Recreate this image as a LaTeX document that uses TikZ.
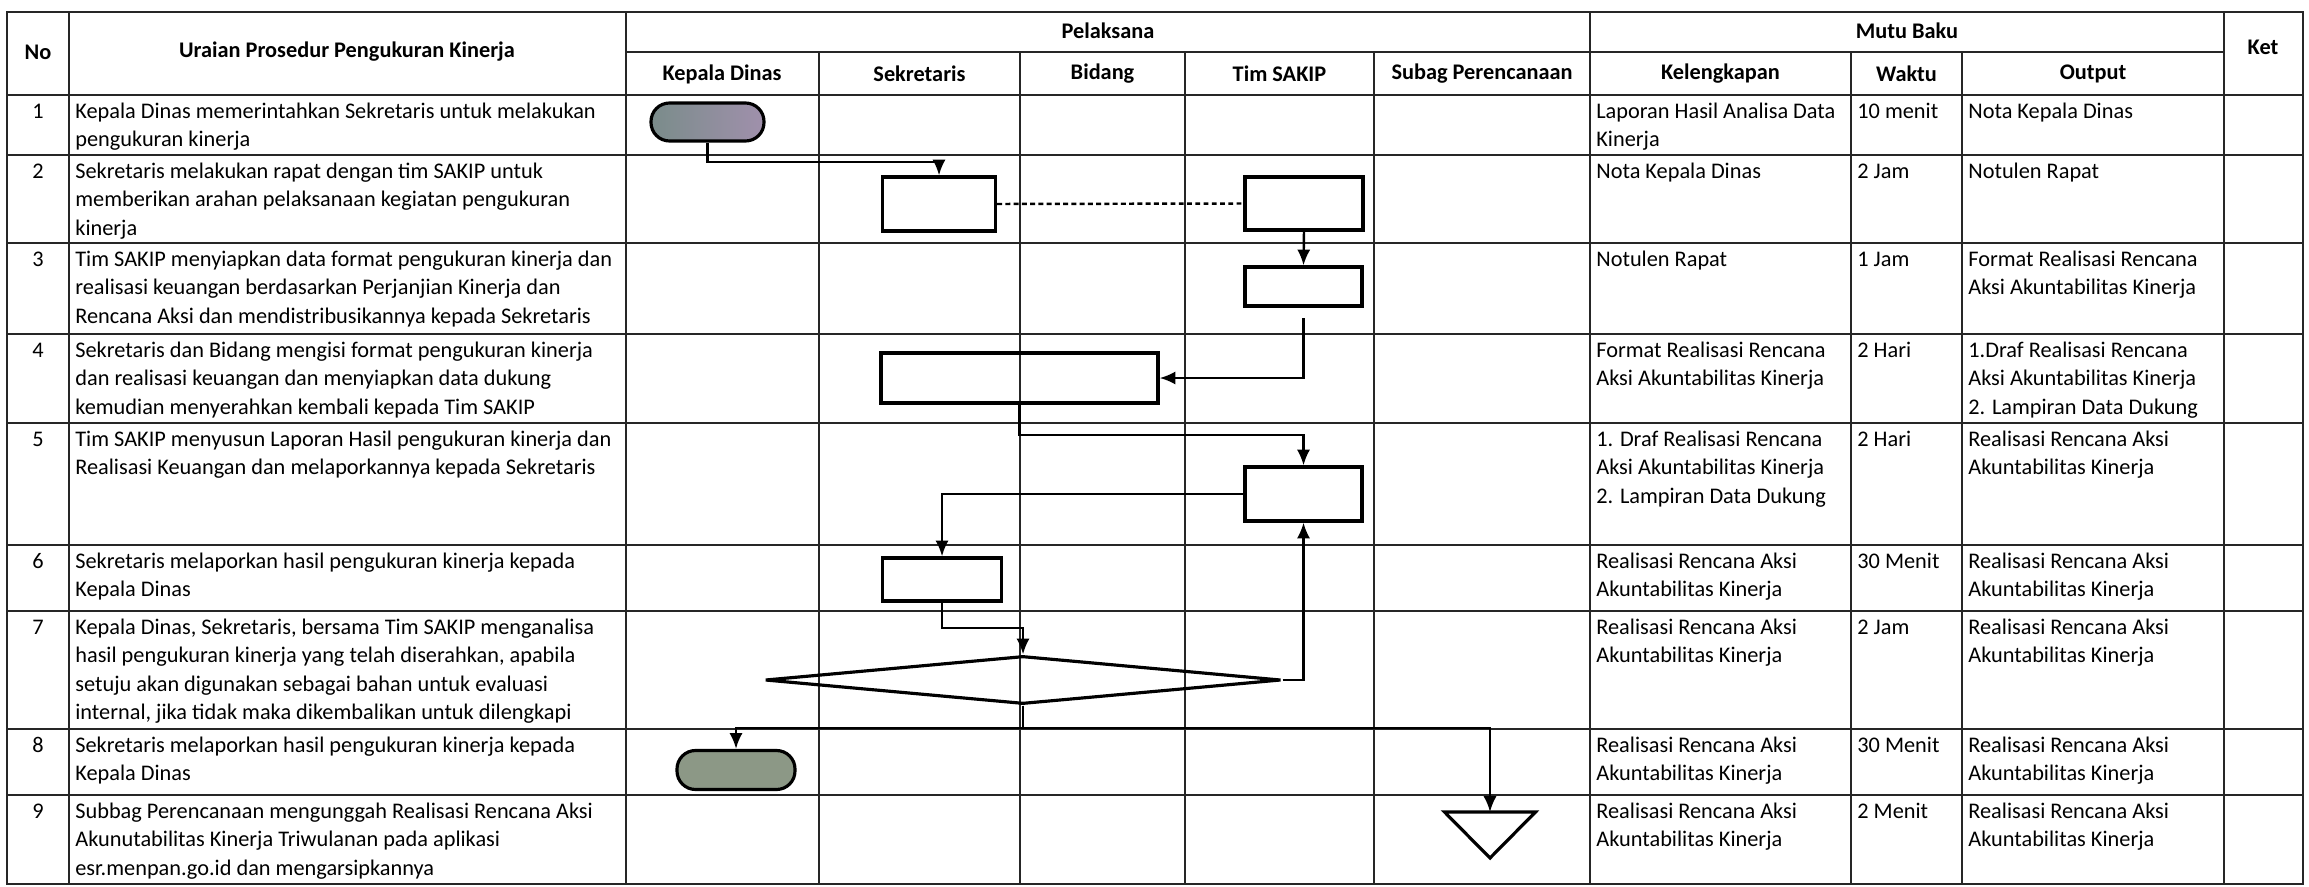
\documentclass[tikz,border=0pt]{standalone}
\usepackage{fontspec}
\setmainfont{Carlito}
\usetikzlibrary{arrows.meta,shapes.geometric}
\definecolor{termgreen}{RGB}{140,152,134}
\definecolor{termleft}{RGB}{122,140,138}
\definecolor{termmid}{RGB}{140,126,152}
\definecolor{termright}{RGB}{160,144,172}
\newcommand\tabfont{\fontsize{12.7}{16.2}\selectfont}

\begin{document}
\begin{tikzpicture}[x=0.02cm, y=-0.02cm, >={Latex[length=9pt,width=7.5pt]},
  grid/.style={draw=black!85, line width=1.05pt},
  txt/.style={anchor=north west, inner sep=0pt, align=left, font=\tabfont},
  num/.style={txt, anchor=north, align=center},
  hd/.style={inner sep=0pt, font=\tabfont\bfseries},
  box/.style={draw, line width=1.8pt, inner sep=0pt},
  sz/.style 2 args={minimum width=#1*0.02cm, minimum height=#2*0.02cm},
  term/.style={box, rounded corners=0.37cm},
  flow/.style={line width=1.4pt}]
\useasboundingbox (0,0) rectangle (2309,886);

% table lines
\draw [grid] (7,12) rectangle (2303,884)
  (626,52) -- (2224,52)
  (7,95) -- (2303,95) (7,155) -- (2303,155) (7,243) -- (2303,243)
  (7,334) -- (2303,334) (7,423) -- (2303,423) (7,545) -- (2303,545)
  (7,611) -- (2303,611) (7,729) -- (2303,729) (7,795) -- (2303,795)
  (69,12) -- (69,884) (626,12) -- (626,884) (1590,12) -- (1590,884) (2224,12) -- (2224,884)
  (819,52) -- (819,884) (1020,52) -- (1020,884) (1185,52) -- (1185,884) (1374,52) -- (1374,884)
  (1851,52) -- (1851,884) (1962,52) -- (1962,884);

% header
\node [hd] (hno) at (38,52) {No};
\node [hd] (hur) at (347,52) {Uraian Prosedur Pengukuran Kinerja};
\node [hd] (hpel) at (1108,31) {Pelaksana};
\node [hd] (hkd) at (722,74) {Kepala Dinas};
\node [hd] (hsek) at (919.5,74) {Sekretaris};
\node [hd] (hbid) at (1102.5,74) {Bidang};
\node [hd] (htim) at (1279.5,74) {Tim SAKIP};
\node [hd] (hsub) at (1482,74) {Subag Perencanaan};
\node [hd] (hmutu) at (1907,31) {Mutu Baku};
\node [hd] (hkel) at (1720.5,74) {Kelengkapan};
\node [hd] (hwak) at (1906.5,74) {Waktu};
\node [hd] (hout) at (2093,74) {Output};
\node [hd] (hket) at (2263,47) {Ket};

% rows
\node [num] (n1) at (38,98) {\strut 1};
\node [txt] (u1) at (75,98) {\strut Kepala Dinas memerintahkan Sekretaris untuk melakukan\\pengukuran kinerja};
\node [txt] (k1) at (1596,98) {\strut Laporan Hasil Analisa Data\\Kinerja};
\node [txt] (w1) at (1857,98) {\strut 10 menit};
\node [txt] (o1) at (1968,98) {\strut Nota Kepala Dinas};

\node [num] (n2) at (38,158) {\strut 2};
\node [txt] (u2) at (75,158) {\strut Sekretaris melakukan rapat dengan tim SAKIP untuk\\memberikan arahan pelaksanaan kegiatan pengukuran\\kinerja};
\node [txt] (k2) at (1596,158) {\strut Nota Kepala Dinas};
\node [txt] (w2) at (1857,158) {\strut 2 Jam};
\node [txt] (o2) at (1968,158) {\strut Notulen Rapat};

\node [num] (n3) at (38,246) {\strut 3};
\node [txt] (u3) at (75,246) {\strut Tim SAKIP menyiapkan data format pengukuran kinerja dan\\realisasi keuangan berdasarkan Perjanjian Kinerja dan\\Rencana Aksi dan mendistribusikannya kepada Sekretaris};
\node [txt] (k3) at (1596,246) {\strut Notulen Rapat};
\node [txt] (w3) at (1857,246) {\strut 1 Jam};
\node [txt] (o3) at (1968,246) {\strut Format Realisasi Rencana\\Aksi Akuntabilitas Kinerja};

\node [num] (n4) at (38,337) {\strut 4};
\node [txt] (u4) at (75,337) {\strut Sekretaris dan Bidang mengisi format pengukuran kinerja\\dan realisasi keuangan dan menyiapkan data dukung\\kemudian menyerahkan kembali kepada Tim SAKIP};
\node [txt] (k4) at (1596,337) {\strut Format Realisasi Rencana\\Aksi Akuntabilitas Kinerja};
\node [txt] (w4) at (1857,337) {\strut 2 Hari};
\node [txt] (o4) at (1968,337) {\strut 1.Draf Realisasi Rencana\\Aksi Akuntabilitas Kinerja\\2. Lampiran Data Dukung};

\node [num] (n5) at (38,426) {\strut 5};
\node [txt] (u5) at (75,426) {\strut Tim SAKIP menyusun Laporan Hasil pengukuran kinerja dan\\Realisasi Keuangan dan melaporkannya kepada Sekretaris};
\node [txt] (k5) at (1596,426) {\strut 1. Draf Realisasi Rencana\\Aksi Akuntabilitas Kinerja\\2. Lampiran Data Dukung};
\node [txt] (w5) at (1857,426) {\strut 2 Hari};
\node [txt] (o5) at (1968,426) {\strut Realisasi Rencana Aksi\\Akuntabilitas Kinerja};

\node [num] (n6) at (38,548) {\strut 6};
\node [txt] (u6) at (75,548) {\strut Sekretaris melaporkan hasil pengukuran kinerja kepada\\Kepala Dinas};
\node [txt] (k6) at (1596,548) {\strut Realisasi Rencana Aksi\\Akuntabilitas Kinerja};
\node [txt] (w6) at (1857,548) {\strut 30 Menit};
\node [txt] (o6) at (1968,548) {\strut Realisasi Rencana Aksi\\Akuntabilitas Kinerja};

\node [num] (n7) at (38,614) {\strut 7};
\node [txt] (u7) at (75,614) {\strut Kepala Dinas, Sekretaris, bersama Tim SAKIP menganalisa\\hasil pengukuran kinerja yang telah diserahkan, apabila\\setuju akan digunakan sebagai bahan untuk evaluasi\\internal, jika tidak maka dikembalikan untuk dilengkapi};
\node [txt] (k7) at (1596,614) {\strut Realisasi Rencana Aksi\\Akuntabilitas Kinerja};
\node [txt] (w7) at (1857,614) {\strut 2 Jam};
\node [txt] (o7) at (1968,614) {\strut Realisasi Rencana Aksi\\Akuntabilitas Kinerja};

\node [num] (n8) at (38,732) {\strut 8};
\node [txt] (u8) at (75,732) {\strut Sekretaris melaporkan hasil pengukuran kinerja kepada\\Kepala Dinas};
\node [txt] (k8) at (1596,732) {\strut Realisasi Rencana Aksi\\Akuntabilitas Kinerja};
\node [txt] (w8) at (1857,732) {\strut 30 Menit};
\node [txt] (o8) at (1968,732) {\strut Realisasi Rencana Aksi\\Akuntabilitas Kinerja};

\node [num] (n9) at (38,798) {\strut 9};
\node [txt] (u9) at (75,798) {\strut Subbag Perencanaan mengunggah Realisasi Rencana Aksi\\Akunutabilitas Kinerja Triwulanan pada aplikasi\\esr.menpan.go.id dan mengarsipkannya};
\node [txt] (k9) at (1596,798) {\strut Realisasi Rencana Aksi\\Akuntabilitas Kinerja};
\node [txt] (w9) at (1857,798) {\strut 2 Menit};
\node [txt] (o9) at (1968,798) {\strut Realisasi Rencana Aksi\\Akuntabilitas Kinerja};

% flow
\node [term, sz={113}{38}, left color=termleft, middle color=termmid, right color=termright] (t1) at (707.5,122) {};
\node [box, sz={113}{54}] (s2) at (939,204) {};
\node [box, sz={118}{53}] (t2) at (1304,203.5) {};
\node [box, sz={117}{39}] (t3) at (1303.5,286.5) {};
\node [box, sz={277}{50}] (b4) at (1019.5,378) {};
\node [box, sz={117}{54}] (t5) at (1303.5,494) {};
\node [box, sz={119}{43}] (s6) at (942,579.5) {};
\node [box, shape=diamond, sz={516}{48}] (d7) at (1023,680) {};
\node [term, sz={118}{39}, fill=termgreen] (e8) at (736,770) {};
\coordinate (v9) at (1490,812);
\draw [box] (v9) ++(-45.5,0) -- ++(91,0) -- ++(-45.5,46) -- cycle;

\draw [flow, ->] (t1.south) -- (t1.south |- 0,162) -| (s2.north);
\draw [flow, dash pattern=on 2.8pt off 1.9pt] (s2.east) -- (t2.west);
\draw [flow, ->] (t2.south) -- (t3.north);
\draw [flow, ->, shorten <=6pt] (t3.south) |- (b4.east);
\draw [flow, ->] (b4.south) -- (b4.south |- 0,435) -| (t5.north);
\draw [flow, ->] (t5.west) -| (s6.north);
\draw [flow, ->] (s6.south) -- (s6.south |- 0,628) -| (d7.north);
\draw [flow, ->] (d7.east) -| (t5.south);
\draw [flow, ->] (d7.south) -- (d7.south |- 0,728) -| (e8.north);
\draw [flow, ->] (d7.south) -- (d7.south |- 0,728) -| (v9);
\end{tikzpicture}
\end{document}
